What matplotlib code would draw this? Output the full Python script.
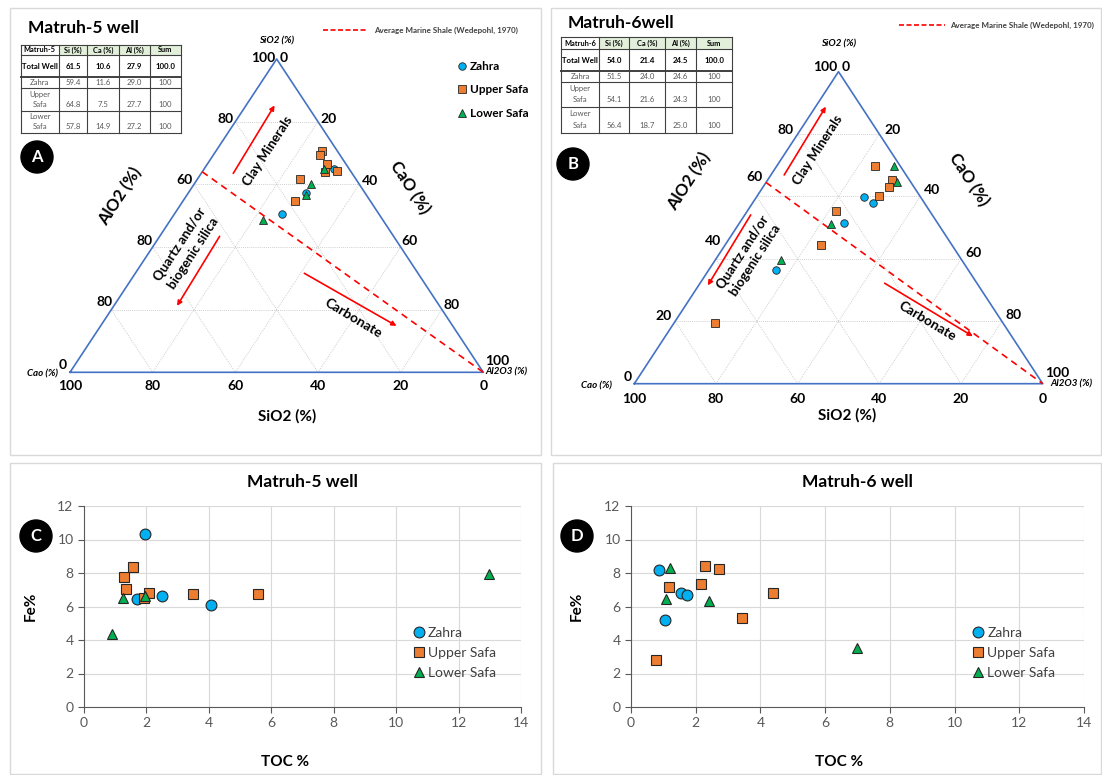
import numpy as np
import matplotlib
matplotlib.use("Agg")
import matplotlib.pyplot as plt
from matplotlib.patches import Rectangle, Circle

plt.rcParams['font.family'] = ['Lato', 'DejaVu Sans']

W, H = 1102, 775

ZAHRA_C = "#00B0F0"
UPPER_C = "#ED7D31"
LOWER_C = "#00B050"
EDGE_C = "#262626"
TRI_C = "#4472C4"

# ---------------- ternary data (SiO2, CaO, Al2O3 in %) ----------------
m5_zahra_si = [64.8, 57.1, 50.4]
m5_zahra_ca = [3.8, 14.3, 23.4]
m5_zahra_al = [31.4, 28.6, 26.2]
m5_upper_si = [70.6, 69.5, 66.6, 64.0, 64.4, 61.8, 54.6]
m5_upper_ca = [3.8, 4.8, 4.6, 6.2, 3.1, 13.4, 18.3]
m5_upper_al = [25.6, 25.7, 28.8, 29.8, 32.5, 24.8, 27.1]
m5_lower_si = [65.0, 60.2, 56.7, 48.6]
m5_lower_ca = [6.0, 11.5, 14.6, 28.9]
m5_lower_al = [29.0, 28.3, 28.7, 22.5]

m6_zahra_si = [59.9, 57.8, 51.5, 36.5]
m6_zahra_ca = [13.8, 12.6, 22.9, 47.1]
m6_zahra_al = [26.3, 29.6, 25.6, 16.4]
m6_upper_si = [69.9, 65.3, 63.2, 60.3, 55.5, 44.6, 19.5]
m6_upper_ca = [6.2, 4.3, 6.1, 10.0, 22.9, 32.0, 70.4]
m6_upper_al = [23.9, 30.4, 30.7, 29.7, 21.6, 23.4, 10.1]
m6_lower_si = [69.8, 64.8, 51.3, 39.6]
m6_lower_ca = [1.5, 3.2, 26.1, 44.3]
m6_lower_al = [28.7, 32.0, 22.6, 16.1]

# average marine shale line starts on the SiO2-CaO side
m5_shale_si = 64.0
m6_shale_si = 64.5

# ---------------- scatter data (TOC %, Fe %) ----------------
m5_zahra_toc = [1.96, 1.69, 2.51, 4.07]
m5_zahra_fe = [10.33, 6.45, 6.62, 6.07]
m5_upper_toc = [1.27, 1.57, 1.34, 1.93, 2.08, 3.49, 5.58]
m5_upper_fe = [7.74, 8.33, 7.04, 6.49, 6.78, 6.72, 6.74]
m5_lower_toc = [1.24, 1.95, 0.91, 12.97]
m5_lower_fe = [6.49, 6.64, 4.36, 7.93]

m6_zahra_toc = [0.87, 1.06, 1.53, 1.72]
m6_zahra_fe = [8.18, 5.21, 6.83, 6.69]
m6_upper_toc = [0.78, 1.18, 2.16, 2.28, 2.73, 3.43, 4.40]
m6_upper_fe = [2.79, 7.18, 7.36, 8.42, 8.26, 5.33, 6.83]
m6_lower_toc = [1.22, 1.09, 2.40, 6.99]
m6_lower_fe = [8.32, 6.43, 6.33, 3.52]

# ---------------- tables ----------------
table_cols = ["Si (%)", "Ca (%)", "Al (%)", "Sum"]
table_rows = ["Total Well", "Zahra", "Upper\nSafa", "Lower\nSafa"]
m5_table = [["61.5", "10.6", "27.9", "100.0"],
            ["59.4", "11.6", "29.0", "100"],
            ["64.8", "7.5", "27.7", "100"],
            ["57.8", "14.9", "27.2", "100"]]
m6_table = [["54.0", "21.4", "24.5", "100.0"],
            ["51.5", "24.0", "24.6", "100"],
            ["54.1", "21.6", "24.3", "100"],
            ["56.4", "18.7", "25.0", "100"]]

bottom_ticks = ["100", "80", "60", "40", "20", "0"]
right_ticks = ["20", "40", "60", "80"]
m5_left_ticks = ["80", "60", "80", "80"]
m6_left_ticks = ["80", "60", "40", "20"]


def px_box(x0, y0, x1, y1):
    return [x0 / W, 1 - y1 / H, (x1 - x0) / W, (y1 - y0) / H]


def tern_xy(si, ca, al):
    si, ca, al = np.asarray(si, float), np.asarray(ca, float), np.asarray(al, float)
    tot = si + ca + al
    f = si / tot
    return al / tot + f / 2, f


def draw_ternary(ax, groups, shale_si, left_ticks, lay):
    ax.set_xlim(0, 1)
    ax.set_ylim(0, 1)
    ax.axis("off")

    grid_kw = dict(color="#BFBFBF", lw=0.6, ls=(0, (1, 1.5)), zorder=1)
    for k in [0.2, 0.4, 0.6, 0.8]:
        ax.plot([k / 2, 1 - k / 2], [k, k], **grid_kw)
        ax.plot([k, k + (1 - k) / 2], [0, 1 - k], **grid_kw)
        ax.plot([1 - k, (1 - k) / 2], [0, 1 - k], **grid_kw)
    ax.plot([0, 1, 0.5, 0], [0, 0, 1, 0], color=TRI_C, lw=1.2, clip_on=False, zorder=2)

    sx, sy = tern_xy(shale_si, 100 - shale_si, 0)
    ax.plot([sx, 1], [sy, 0], color="red", lw=1.2, ls=(0, (4, 3)), clip_on=False, zorder=2)

    for si, ca, al, label, color, marker, ms in groups:
        xs, ys = tern_xy(si, ca, al)
        ax.plot(xs, ys, ls="none", marker=marker, ms=ms, mfc=color, mec=EDGE_C,
                mew=0.6, label=label, clip_on=False, zorder=3)

    arrow_kw = dict(arrowstyle="-|>", color="red", lw=1.2, mutation_scale=7,
                    shrinkA=0, shrinkB=0)
    for a, b in lay["arrows"]:
        ax.annotate("", xy=b, xytext=a, arrowprops=arrow_kw)

    tkw = dict(fontsize=9.5, fontweight="bold", ha="center", va="center")
    ax.text(*lay["clay"], "Clay Minerals", rotation=57, **tkw)
    ax.text(*lay["quartz"], "Quartz and/or\nbiogenic silica", rotation=57,
            linespacing=1.35, **tkw)
    ax.text(*lay["carb"], "Carbonate", rotation=-31, fontsize=10, fontweight="bold",
            ha="center", va="center")
    ax.text(*lay["alo2"], "AlO2 (%)", rotation=57, fontsize=12, fontweight="bold",
            ha="center", va="center")
    ax.text(*lay["cao"], "CaO (%)", rotation=-57, fontsize=12, fontweight="bold",
            ha="center", va="center")
    ax.text(*lay["sio2"], "SiO2 (%)", fontsize=11, fontweight="bold",
            ha="center", va="center")

    nkw = dict(textcoords="offset pixels", fontsize=10, fontweight="bold", va="center")
    lo, ro, bo = lay["left_off"], lay["right_off"], lay["bottom_off"]
    for k, lab in zip(lay["left_f"], left_ticks):
        ax.annotate(lab, (k / 2, k), xytext=(lo, 0), ha="right", **nkw)
    ax.annotate("0", (0, 0), xytext=(-3, 7), ha="right", **nkw)
    for k, lab in zip(lay["right_f"], right_ticks):
        ax.annotate(lab, (1 - k / 2, k), xytext=(ro, 0), ha="left", **nkw)
    ax.annotate("100", (1, 0), xytext=(2, 11), ha="left", **nkw)
    for i, lab in enumerate(bottom_ticks):
        ax.annotate(lab, (i * 0.2, 0), xytext=(0, bo), ha="center", **nkw)
    ax.annotate("100", (0.5, 1), xytext=(-1, lay["top_off"]), ha="right", **nkw)
    ax.annotate("0", (0.5, 1), xytext=(3, lay["top_off"]), ha="left", **nkw)

    ckw = dict(textcoords="offset pixels", fontsize=7, fontweight="bold",
               style="italic", va="center")
    ax.annotate("SiO2 (%)", (0.5, 1), xytext=(0, lay["top_label"]), ha="center", **ckw)
    ax.annotate("Cao (%)", (0, 0), xytext=(lay["cao_off"], -2), ha="right", **ckw)
    ax.annotate("Al2O3 (%)", (1, 0), xytext=(lay["al_off"], 0), ha="left", **ckw)


def draw_table(ax, xs, ys, first_col, rows):
    header = [first_col] + table_cols
    for j in range(5):
        fc = "white" if j == 0 else "#E2EFDA"
        ax.add_patch(Rectangle((xs[j], ys[0]), xs[j + 1] - xs[j], ys[1] - ys[0],
                               facecolor=fc, edgecolor="none"))
        ax.text((xs[j] + xs[j + 1]) / 2, (ys[0] + ys[1]) / 2, header[j],
                ha="center", va="center", fontsize=5.3, fontweight="bold")
    for i, (name, vals) in enumerate(zip(table_rows, rows)):
        y0, y1 = ys[i + 1], ys[i + 2]
        kw = dict(ha="center", va="center", fontsize=5.6)
        if i == 0:
            kw.update(fontweight="bold", color="black")
        else:
            kw.update(color="#595959")
        cx = (xs[0] + xs[1]) / 2
        if "\n" in name:
            a, b = name.split("\n")
            ax.text(cx, y0 + 0.27 * (y1 - y0), a, **kw)
            ax.text(cx, y0 + 0.73 * (y1 - y0), b, **kw)
            vy = y0 + 0.73 * (y1 - y0)
        else:
            ax.text(cx, (y0 + y1) / 2, name, **kw)
            vy = (y0 + y1) / 2
        for j, v in enumerate(vals):
            ax.text((xs[j + 1] + xs[j + 2]) / 2, vy, v, **kw)
    for k, y in enumerate(ys):
        ax.plot([xs[0], xs[-1]], [y, y], color="#404040", lw=1.4 if k == 2 else 0.8)
    for x in xs:
        ax.plot([x, x], [ys[0], ys[-1]], color="#404040", lw=0.8)


def draw_scatter(ax, title, groups, leg_anchor):
    for toc, fe, label, color, marker, ms in groups:
        ax.plot(toc, fe, ls="none", marker=marker, ms=ms, mfc=color, mec=EDGE_C,
                mew=0.8, label=label, zorder=3)
    ax.set_xlim(0, 14)
    ax.set_ylim(0, 12)
    ax.set_xticks(range(0, 15, 2))
    ax.set_yticks(range(0, 13, 2))
    ax.grid(True, color="#D9D9D9", lw=0.8)
    ax.set_axisbelow(True)
    ax.set_facecolor("none")
    for s in ["top", "right"]:
        ax.spines[s].set_visible(False)
    for s in ["left", "bottom"]:
        ax.spines[s].set_color("#595959")
    ax.tick_params(colors="#595959", labelsize=10, length=4, width=0.8)
    ax.set_title(title, fontsize=12.5, fontweight="bold", pad=14)
    ax.set_xlabel("TOC %", fontsize=11, fontweight="bold")
    ax.set_ylabel("Fe%", fontsize=11, fontweight="bold")
    ax.xaxis.set_label_coords(0.46, -0.24)
    ax.yaxis.set_label_coords(-0.105, 0.5)
    ax.legend(loc="upper left", bbox_to_anchor=leg_anchor, frameon=False, fontsize=10,
              handletextpad=0.15, labelspacing=0.6, borderpad=0, handlelength=1.0,
              borderaxespad=0, labelcolor="#404040")


fig = plt.figure(figsize=(W / 100, H / 100), dpi=100)

# background layer in pixel coordinates
bg = fig.add_axes([0, 0, 1, 1])
bg.set_xlim(0, W)
bg.set_ylim(H, 0)
bg.axis("off")
for (x0, y0, x1, y1) in [(10, 8, 541, 455), (551, 8, 1101, 455),
                         (10, 463, 541, 774), (553, 463, 1101, 774)]:
    bg.add_patch(Rectangle((x0, y0), x1 - x0, y1 - y0, fill=False,
                           edgecolor="#D9D9D9", lw=1))
for letter, (cx, cy) in zip("ABCD", [(37, 157), (573, 164), (36, 536), (577, 536)]):
    bg.add_patch(Circle((cx, cy), 16, color="black"))
    bg.text(cx, cy, letter, color="white", fontsize=12, fontweight="bold",
            ha="center", va="center")

bg.text(28, 28, "Matruh-5 well", fontsize=12.5, fontweight="bold", va="center")
bg.text(568, 23, "Matruh-6well", fontsize=12.5, fontweight="bold", va="center")
draw_table(bg, [20.7, 59, 87.3, 119, 150, 180.7], [45, 55, 77.3, 88.3, 110.7, 132.7],
           "Matruh-5", m5_table)
draw_table(bg, [560.7, 599.3, 629.3, 665, 696, 732], [37.3, 49.3, 71, 81.7, 106.7, 132.7],
           "Matruh-6", m6_table)

for (x0, x1, y, tx) in [(322.7, 368.3, 30, 374), (899, 945, 25.3, 950)]:
    bg.plot([x0, x1], [y, y], color="red", lw=1.2, ls=(0, (3, 1.5)))
    bg.text(tx, y, "Average Marine Shale (Wedepohl, 1970)", fontsize=5.8,
            fontweight="bold", color="#404040", va="center")

# ternary A
lay_a = dict(
    arrows=[((0.395, 0.635), (0.495, 0.852)), ((0.362, 0.434), (0.259, 0.212)),
            ((0.567, 0.316), (0.790, 0.148))],
    clay=(0.478, 0.706), quartz=(0.283, 0.394), carb=(0.686, 0.171),
    alo2=(0.1205, 0.563), cao=(0.823, 0.589), sio2=(0.526, -0.139),
    left_f=[0.81, 0.615, 0.42, 0.225], right_f=[0.81, 0.61, 0.42, 0.215],
    left_off=-4, right_off=5, bottom_off=-14, top_off=1, top_label=18,
    cao_off=-12, al_off=2,
)
ax_a = fig.add_axes(px_box(70, 59, 483.3, 372.3))
draw_ternary(ax_a, [
    (m5_zahra_si, m5_zahra_ca, m5_zahra_al, "Zahra", ZAHRA_C, "o", 5.4),
    (m5_upper_si, m5_upper_ca, m5_upper_al, "Upper Safa", UPPER_C, "s", 5.6),
    (m5_lower_si, m5_lower_ca, m5_lower_al, "Lower Safa", LOWER_C, "^", 5.4),
], m5_shale_si, m5_left_ticks, lay_a)
ax_a.legend(loc="upper left", bbox_to_anchor=(0.936, 0.994), frameon=False,
            prop=dict(size=8.5, weight="bold"), handletextpad=0.3, labelspacing=1.05,
            borderpad=0, borderaxespad=0, handlelength=0.8)

# ternary B
lay_b = dict(
    arrows=[((0.367, 0.669), (0.469, 0.888)), ((0.285, 0.541), (0.180, 0.315)),
            ((0.613, 0.322), (0.829, 0.152))],
    clay=(0.449, 0.749), quartz=(0.281, 0.408), carb=(0.717, 0.2),
    alo2=(0.134, 0.648), cao=(0.82, 0.653), sio2=(0.522, -0.1),
    left_f=[0.813, 0.662, 0.458, 0.218], right_f=[0.813, 0.621, 0.418, 0.221],
    left_off=-7, right_off=8, bottom_off=-15, top_off=5, top_label=28,
    cao_off=-22, al_off=8,
)
ax_b = fig.add_axes(px_box(634.3, 71.7, 1042.7, 383.7))
draw_ternary(ax_b, [
    (m6_zahra_si, m6_zahra_ca, m6_zahra_al, "Zahra", ZAHRA_C, "o", 5.4),
    (m6_upper_si, m6_upper_ca, m6_upper_al, "Upper Safa", UPPER_C, "s", 5.6),
    (m6_lower_si, m6_lower_ca, m6_lower_al, "Lower Safa", LOWER_C, "^", 5.4),
], m6_shale_si, m6_left_ticks, lay_b)

# scatter C
ax_c = fig.add_axes(px_box(84, 506, 521, 707))
draw_scatter(ax_c, "Matruh-5 well", [
    (m5_zahra_toc, m5_zahra_fe, "Zahra", ZAHRA_C, "o", 7.8),
    (m5_upper_toc, m5_upper_fe, "Upper Safa", UPPER_C, "s", 7.8),
    (m5_lower_toc, m5_lower_fe, "Lower Safa", LOWER_C, "^", 7.4),
], (0.75, 0.40))

# scatter D
ax_d = fig.add_axes(px_box(631, 506, 1084, 707))
draw_scatter(ax_d, "Matruh-6 well", [
    (m6_zahra_toc, m6_zahra_fe, "Zahra", ZAHRA_C, "o", 7.8),
    (m6_upper_toc, m6_upper_fe, "Upper Safa", UPPER_C, "s", 7.8),
    (m6_lower_toc, m6_lower_fe, "Lower Safa", LOWER_C, "^", 7.4),
], (0.751, 0.40))

fig.savefig("out.png", dpi=100)
